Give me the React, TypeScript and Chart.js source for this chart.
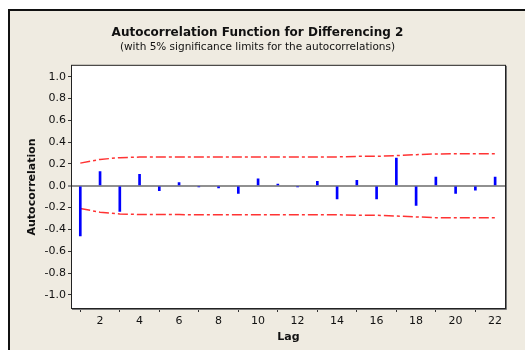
import React, { useEffect, useRef } from "react";
import { Chart, registerables } from "chart.js";

Chart.register(...registerables);

const lags = [1, 2, 3, 4, 5, 6, 7, 8, 9, 10, 11, 12, 13, 14, 15, 16, 17, 18, 19, 20, 21, 22];
const acf = [-0.46, 0.13, -0.235, 0.105, -0.045, 0.03, -0.01, -0.02, -0.07, 0.065, 0.015, -0.01, 0.04, -0.12, 0.05, -0.12, 0.255, -0.18, 0.08, -0.07, -0.04, 0.08];
const upperLimit = [0.208, 0.242, 0.258, 0.263, 0.264, 0.264, 0.265, 0.265, 0.265, 0.265, 0.265, 0.265, 0.265, 0.265, 0.27, 0.27, 0.277, 0.285, 0.292, 0.293, 0.293, 0.293];
const lowerLimit = [-0.208, -0.242, -0.258, -0.263, -0.264, -0.264, -0.265, -0.265, -0.265, -0.265, -0.265, -0.265, -0.265, -0.265, -0.27, -0.27, -0.277, -0.285, -0.292, -0.293, -0.293, -0.293];
const xTicks = [2, 4, 6, 8, 10, 12, 14, 16, 18, 20, 22];
const yTicks = [-1.0, -0.8, -0.6, -0.4, -0.2, 0, 0.2, 0.4, 0.6, 0.8, 1.0];

const FONT = "'DejaVu Sans', sans-serif";

const plotFrame = {
  id: "plotFrame",
  beforeDraw(chart: any) {
    const { ctx, chartArea: a } = chart;
    ctx.save();
    ctx.fillStyle = "#ffffff";
    ctx.fillRect(a.left, a.top, a.right - a.left, a.bottom - a.top);
    ctx.restore();
  },
  afterDraw(chart: any) {
    const { ctx, chartArea: a } = chart;
    ctx.save();
    ctx.strokeStyle = "#222222";
    ctx.lineWidth = 1;
    ctx.strokeRect(a.left - 0.5, a.top - 0.5, a.right - a.left + 1, a.bottom - a.top + 1);
    ctx.strokeStyle = "#777777";
    ctx.beginPath();
    ctx.moveTo(a.right + 1.5, a.top);
    ctx.lineTo(a.right + 1.5, a.bottom + 1.5);
    ctx.lineTo(a.left, a.bottom + 1.5);
    ctx.stroke();
    ctx.restore();
  },
};

export default function App() {
  const ref = useRef<HTMLCanvasElement>(null);
  useEffect(() => {
    document.body.style.overflow = "hidden";
    const limitStyle = {
      type: "line" as const,
      borderColor: "#ff3333",
      borderWidth: 1.5,
      borderDash: [10, 3, 3, 3],
      pointRadius: 0,
      fill: false,
      tension: 0,
    };
    const chart = new Chart(ref.current!, {
      type: "bar",
      data: {
        datasets: [
          {
            type: "bar",
            data: lags.map((l, i) => ({ x: l, y: acf[i] })),
            backgroundColor: "#0000ff",
            barThickness: 2,
            order: 0,
          } as any,
          { ...limitStyle, data: lags.map((l, i) => ({ x: l, y: upperLimit[i] })), order: 1 },
          { ...limitStyle, data: lags.map((l, i) => ({ x: l, y: lowerLimit[i] })), order: 1 },
        ],
      },
      options: {
        animation: false,
        responsive: false,
        maintainAspectRatio: false,
        layout: { padding: { left: 0, right: 20, top: 0, bottom: 0 } },
        plugins: {
          legend: { display: false },
          tooltip: { enabled: false },
          title: {
            display: true,
            text: "Autocorrelation Function for Differencing 2",
            color: "#111111",
            font: { family: FONT, size: 12, weight: "bold", lineHeight: 1.2 },
            padding: { top: 14.6, bottom: 0 },
          },
          subtitle: {
            display: true,
            text: "(with 5% significance limits for the autocorrelations)",
            color: "#111111",
            font: { family: FONT, size: 10.5, lineHeight: 1.2 },
            padding: { top: 0.6, bottom: 12.6 },
          },
        },
        scales: {
          x: {
            type: "linear",
            min: 0.58,
            max: 22.5,
            offset: false,
            afterBuildTicks: (s: any) => {
              s.ticks = xTicks.map((v) => ({ value: v }));
            },
            afterFit: (s: any) => {
              s.height = 42;
            },
            ticks: {
              color: "#111111",
              font: { family: FONT, size: 11 },
              padding: 3,
              maxRotation: 0,
              autoSkip: false,
            },
            grid: { display: true, drawOnChartArea: false, tickLength: 4, tickColor: "#333333" },
            border: { display: false },
            title: {
              display: true,
              text: "Lag",
              color: "#111111",
              font: { family: FONT, size: 11, weight: "bold", lineHeight: 1.2 },
              padding: { top: 0, bottom: 6.4 },
            },
          },
          y: {
            type: "linear",
            min: -1.12,
            max: 1.1,
            afterBuildTicks: (s: any) => {
              s.ticks = yTicks.map((v) => ({ value: v }));
            },
            afterFit: (s: any) => {
              s.width = 62;
            },
            ticks: {
              color: "#111111",
              font: { family: FONT, size: 11 },
              padding: 2,
              autoSkip: false,
              callback: (v: any) => Number(v).toFixed(1),
            },
            grid: {
              display: true,
              drawOnChartArea: true,
              tickLength: 4,
              color: (c: any) => (c.tick && c.tick.value === 0 ? "#909090" : "rgba(0,0,0,0)"),
              lineWidth: (c: any) => (c.tick && c.tick.value === 0 ? 2 : 1),
              tickColor: (c: any) => (c.tick && c.tick.value === 0 ? "#909090" : "#333333"),
            },
            border: { display: false },
            title: {
              display: true,
              text: "Autocorrelation",
              color: "#111111",
              font: { family: FONT, size: 11, weight: "bold", lineHeight: 1.2 },
              padding: { top: 15.4, bottom: 0 },
            },
          },
        },
      },
      plugins: [plotFrame],
    } as any);
    return () => chart.destroy();
  }, []);

  return (
    <div
      style={{
        position: "fixed",
        left: 8,
        top: 9,
        right: 0,
        bottom: 0,
        overflow: "hidden",
        boxSizing: "border-box",
        background: "#EFEBE1",
        borderLeft: "2px solid #111",
        borderTop: "2px solid #111",
      }}
    >
      <canvas ref={ref} width={515} height={339} style={{ display: "block", width: 515, height: 339 }} />
    </div>
  );
}
